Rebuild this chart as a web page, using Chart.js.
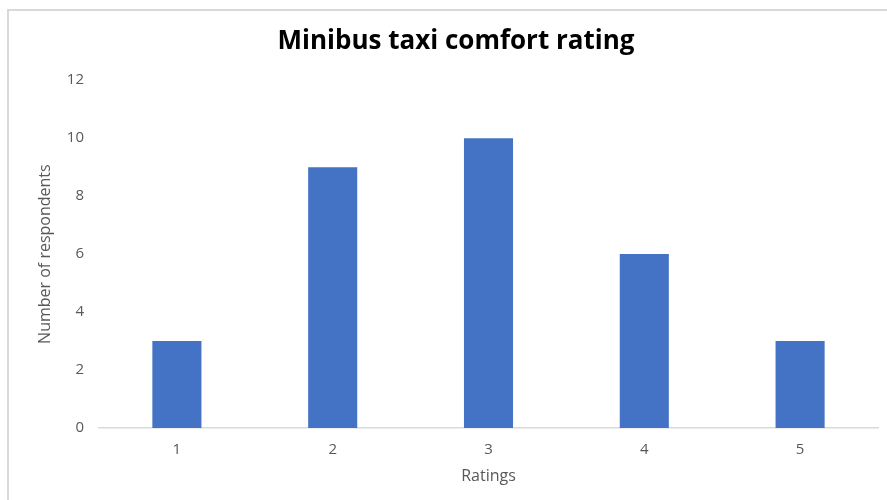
<!DOCTYPE html>
<html>
<head>
<meta charset="utf-8">
<title>Minibus taxi comfort rating</title>
<script src="https://cdn.jsdelivr.net/npm/chart.js@4"></script>
<style>
  html, body { margin: 0; padding: 0; background: #fff; overflow: hidden; }
  #wrap { position: absolute; left: 0; top: 0; width: 887px; height: 500px; }
</style>
</head>
<body>
<div id="wrap"><canvas id="ratingChart"></canvas></div>
<script>
    // Data
    const ratings = ["1", "2", "3", "4", "5"];
    const respondents = [3, 9, 10, 6, 3];
    const yTicks = [0, 2, 4, 6, 8, 10, 12];

    const tickColor = "#595959";
    const fontFamily = "'Open Sans', 'DejaVu Sans', sans-serif";

    // light grey frame of the chart area (top and left edges visible)
    const framePlugin = {
        id: "frame",
        beforeDraw(chart) {
            const ctx = chart.ctx;
            ctx.save();
            ctx.strokeStyle = "#d9d9d9";
            ctx.lineWidth = 2;
            ctx.beginPath();
            ctx.moveTo(8, 500);
            ctx.lineTo(8, 10);
            ctx.lineTo(887, 10);
            ctx.stroke();
            ctx.restore();
        }
    };

    new Chart(document.getElementById("ratingChart"), {
        type: "bar",
        data: {
            labels: ratings,
            datasets: [{
                label: "Number of respondents",
                data: respondents,
                backgroundColor: "#4472C4",
                categoryPercentage: 1,
                barPercentage: 0.315
            }]
        },
        options: {
            responsive: true,
            maintainAspectRatio: false,
            animation: false,
            layout: { padding: { left: 34, right: 9, top: 0, bottom: 14 } },
            plugins: {
                legend: { display: false },
                tooltip: { enabled: false },
                title: {
                    display: true,
                    text: "Minibus taxi comfort rating",
                    color: "#000",
                    font: { family: fontFamily, size: 26, weight: "bold" },
                    padding: { top: 26, bottom: 23 }
                }
            },
            scales: {
                x: {
                    grid: { display: false, drawTicks: false },
                    border: { display: true, color: "#d9d9d9", width: 1.5 },
                    ticks: { color: tickColor, font: { family: fontFamily, size: 15 }, padding: 13 },
                    title: {
                        display: true,
                        text: "Ratings",
                        color: tickColor,
                        font: { family: fontFamily, size: 16 },
                        padding: { top: 0, bottom: 0 }
                    },
                    afterFit(scale) { scale.height = 58; }
                },
                y: {
                    min: 0,
                    max: 12,
                    afterBuildTicks(scale) { scale.ticks = yTicks.map(v => ({ value: v })); },
                    grid: { display: false, drawTicks: false },
                    border: { display: false },
                    ticks: { color: tickColor, font: { family: fontFamily, size: 15 }, padding: 15 },
                    title: {
                        display: true,
                        text: "Number of respondents",
                        color: tickColor,
                        font: { family: fontFamily, size: 16 },
                        padding: 2
                    },
                    afterFit(scale) { scale.width = 65; }
                }
            }
        },
        plugins: [framePlugin]
    });
</script>
</body>
</html>
